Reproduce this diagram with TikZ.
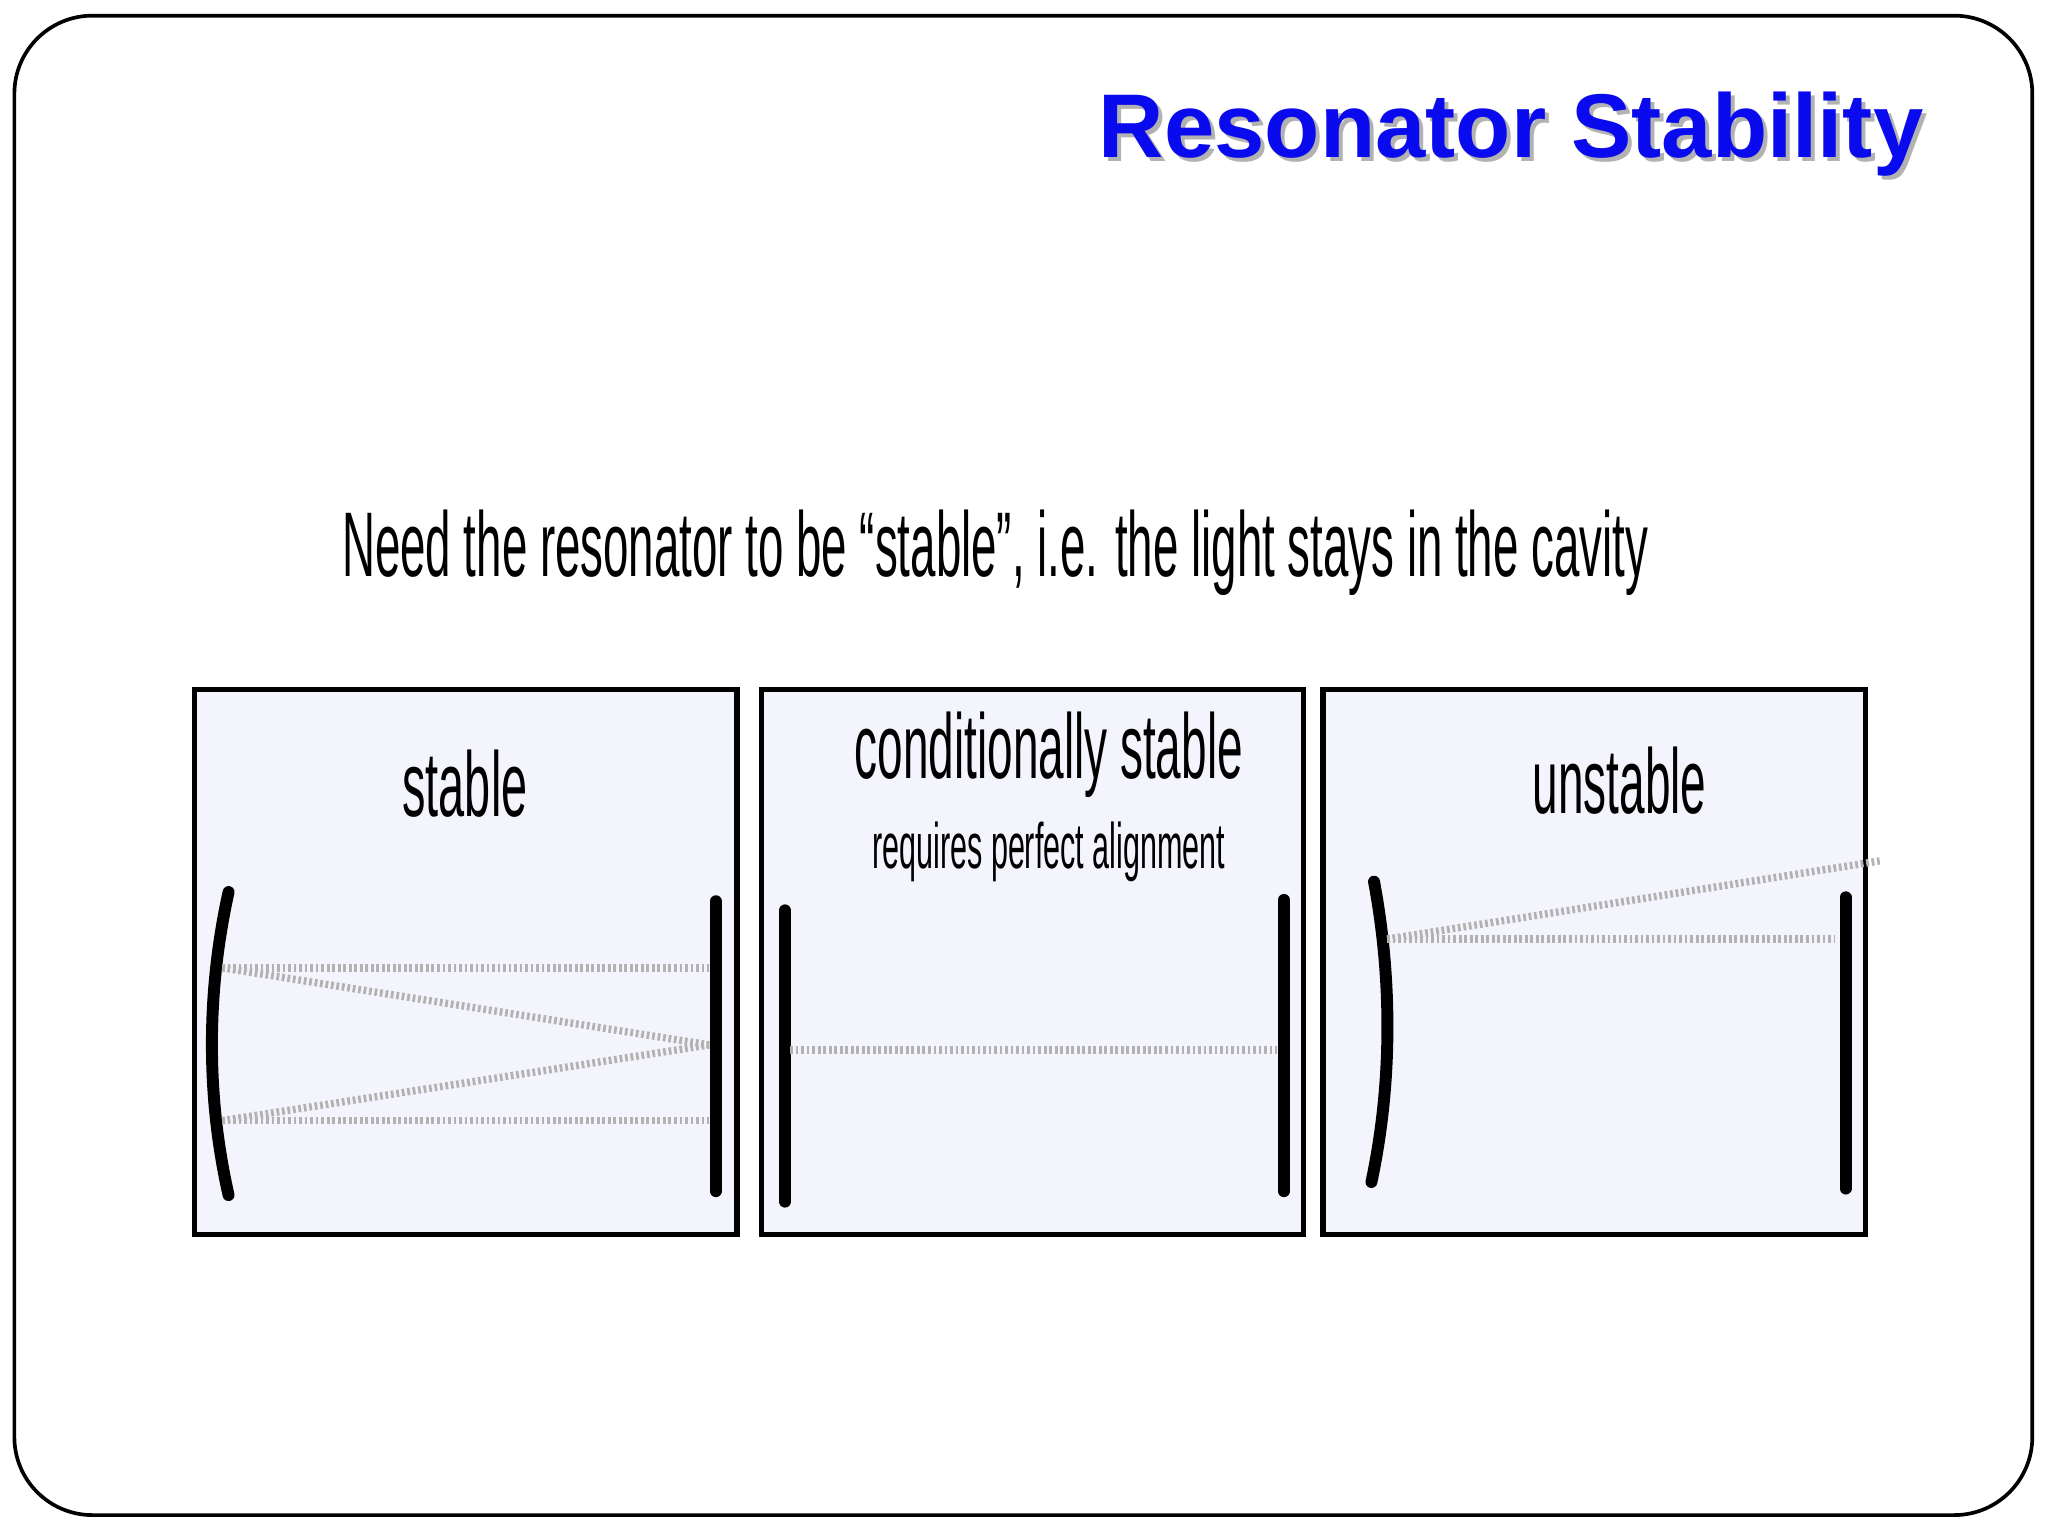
\documentclass[tikz,border=0pt]{standalone}
\usepackage{fontspec}
\setmainfont{Liberation Sans}
\usepackage{graphicx}
\definecolor{panel}{HTML}{F4F4FC}
\definecolor{titleblue}{HTML}{0A0AEE}
\newcommand{\nar}[2]{\scalebox{#1}[1]{#2}}
\begin{document}
\begin{tikzpicture}[x=0.01cm,y=-0.01cm,
  box/.style={draw=black,line width=1.2pt,fill=panel},
  mirror/.style={line width=2.6pt,line cap=round},
  ray/.style={gray!60,line width=1.6pt,dash pattern=on 0.6pt off 0.6pt},
  lbl/.style={inner sep=0pt,font=\fontsize{20}{24}\selectfont}]
\useasboundingbox (0,0) rectangle (1568,1176);
\draw[line width=0.8pt,rounded corners=17pt] (11,12) rectangle (1556,1160);
\node[inner sep=0pt,text=gray!60,font=\fontsize{19.7}{24}\selectfont\bfseries] at (1160,106) {Resonator Stability};
\node[inner sep=0pt,text=titleblue,font=\fontsize{19.7}{24}\selectfont\bfseries] (title) at (1157,103) {Resonator Stability};
\node[lbl] (need) at (762,423) {\nar{0.497}{Need the resonator to be “stable”, i.e. the light stays in the cavity}};
% panels
\node[box,minimum width=4.15cm,minimum height=4.17cm,inner sep=0pt] (p1) at (356.5,736.5) {};
\node[box,minimum width=4.15cm,minimum height=4.17cm,inner sep=0pt] (p2) at (790.5,736.5) {};
\node[box,minimum width=4.15cm,minimum height=4.17cm,inner sep=0pt] (p3) at (1220.5,736.5) {};
\node[lbl] (l1) at (356,600) {\nar{0.51}{stable}};
\node[lbl] (l2) at (803,578) {\nar{0.5}{conditionally stable}};
\node[inner sep=0pt,font=\fontsize{14}{17}\selectfont] (l2b) at (803,652) {\nar{0.475}{requires perfect alignment}};
\node[lbl] (l3) at (1240,598) {\nar{0.5}{unstable}};
% stable
\draw[mirror] (175,683) .. controls (158,760) and (158,840) .. (175,915);
\draw[mirror] (548,690) -- (548,912);
\coordinate (a1) at (170,741); \coordinate (a2) at (543,741);
\coordinate (b1) at (170,858); \coordinate (b2) at (543,858);
\coordinate (c) at (543,800);
\draw[ray] (a1) -- (a2); \draw[ray] (b1) -- (b2);
\draw[ray] (a1) -- (c); \draw[ray] (b1) -- (c);
% conditionally
\draw[mirror] (601,697) -- (601,920);
\draw[mirror] (983,689) -- (983,912);
\coordinate (d1) at (605,804); \coordinate (d2) at (978,804);
\draw[ray] (d1) -- (d2);
% unstable
\draw[mirror] (1052,675) .. controls (1066,750) and (1066,830) .. (1050,905);
\draw[mirror] (1413,687) -- (1413,910);
\coordinate (e1) at (1062,719); \coordinate (e2) at (1405,719); \coordinate (e3) at (1440,659);
\draw[ray] (e1) -- (e2); \draw[ray] (e1) -- (e3);
\end{tikzpicture}
\end{document}
